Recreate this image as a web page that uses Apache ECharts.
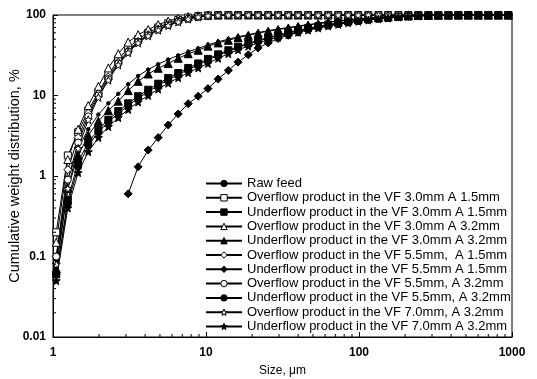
<!DOCTYPE html>
<html><head><meta charset="utf-8">
<script src="https://cdn.jsdelivr.net/npm/echarts@6/dist/echarts.min.js"></script>
<style>html,body{margin:0;padding:0;background:#fff}#c{width:537px;height:379px}</style>
</head><body><div id="c"></div>
<script>
// particle sizes, µm
const sizes = [1.05,1.25,1.46,1.70,1.98,2.30,2.67,3.10,3.60,4.19,4.87,5.66,6.58,7.65,8.89,10.3,12.0,14.0,16.2,18.9,21.9,25.5,29.6,34.5,40.0,46.5,54.1,62.9,73.1,85.0,98.8,115,134,155,181,210,244,284,330,384,446,518,602,700,814,946];

const rawFeed   = [0.09,0.9,2.2,3.8,5.8,8.0,10.5,13.8,17.5,21,24.5,28,31.5,35,38.5,42.5,46.5,50,53.5,57,60.5,64,67,70,73,76,79,82,84.5,87,89.5,92,94,95.5,97,98,98.8,99.3,99.7,99.9,100,100,100,100,100,100];
const over30A15 = [0.2,1.8,3.5,6.5,11,18,28,39,50,60,70,79,87,93,97,99,99.7,100,100,100,100,100,100,100,100,100,100,100,100,100,100,100,100,100,100,100,100,100,100,100,100,100,100,100,100,100];
const under30A15= [0.06,0.5,1.5,2.6,3.8,5.0,6.4,8.0,9.8,11.8,14,16.5,19,22,25,28.5,32.5,36.5,40.5,44.5,48.5,52.5,56.5,60.5,64.5,68.5,72.5,76,79.5,83,86,89,91.5,93.5,95.5,97,98,98.8,99.4,99.7,99.9,100,100,100,100,100];
const over30A32 = [0.15,1.6,3.8,7.5,13,22,33,46,57,66,76,84,91,95.5,98,99.3,99.8,100,100,100,100,100,100,100,100,100,100,100,100,100,100,100,100,100,100,100,100,100,100,100,100,100,100,100,100,100];
const under30A32= [0.07,0.7,1.8,3.2,4.8,6.5,8.5,11.5,15,18.5,21.8,25,29,33,36.5,41,45,48.5,52.5,56,59.5,63,66,69,72,75,78,81,84,86.5,89,91.5,93.5,95,96.5,97.7,98.5,99.2,99.6,99.9,100,100,100,100,100,100];
const over55A15 = [0.1,1.2,3.0,6.0,10.5,17,26,36,47,57,67,76,84,91,95.5,98.5,99.6,100,100,100,100,100,100,100,100,100,100,100,100,100,100,100,100,100,100,100,100,100,100,100,100,100,100,100,100,100];
const under55A15= [null,null,null,null,null,null,null,0.6,1.3,2.1,3.0,4.3,5.9,7.9,9.8,12.2,16,20.5,26,32,39,45,51,56,61,66,70.5,74.5,78,81.5,84.5,87.5,90,92.5,94.5,96,97.3,98.3,99,99.5,99.8,100,100,100,100,100];
const over55A32 = [0.1,0.9,2.6,5.5,10,16,25,35,46,56,66,75,83,90,95,98.3,99.5,100,100,100,100,100,100,100,100,100,100,100,100,100,100,100,100,100,100,100,100,100,100,100,100,100,100,100,100,100];
const under55A32= [0.06,0.45,1.3,2.4,3.5,4.7,6.0,7.5,9.2,11.2,13.3,15.7,18.2,21,24,27.5,31.5,35.5,39.5,43.5,47.5,51.5,55.5,59.5,63.5,67.5,71.5,75,78.5,82,85,88,90.5,93,95,96.7,97.8,98.7,99.3,99.7,99.9,100,100,100,100,100];
const over70A32 = [0.08,0.7,2.2,5.0,9.5,15.5,24,34,45,55,65,74,82,89,94.5,98,99.4,100,100,100,100,100,100,100,100,100,100,100,100,100,100,100,100,100,100,100,100,100,100,100,100,100,100,100,100,100];
const under70A32= [0.05,0.4,1.1,2.0,3.0,4.1,5.3,6.7,8.3,10,12,14.2,16.6,19.2,22,25,29,33,37,41,45,49,53,57,61,65,69,73,76.5,80,83.5,86.5,89.5,92,94.3,96,97.3,98.3,99,99.5,99.8,100,100,100,100,100];

const seriesNames = [
  'Raw feed',
  'Overflow product in the VF 3.0mm A 1.5mm',
  'Underflow product in the VF 3.0mm A 1.5mm',
  'Overflow product in the VF 3.0mm A 3.2mm',
  'Underflow product in the VF 3.0mm A 3.2mm',
  'Overflow product in the VF 5.5mm,  A 1.5mm',
  'Underflow product in the VF 5.5mm A 1.5mm',
  'Overflow product in the VF 5.5mm, A 3.2mm',
  'Underflow product in the VF 5.5mm, A 3.2mm',
  'Overflow product in the VF 7.0mm, A 3.2mm',
  'Underflow product in the VF 7.0mm A 3.2mm'
];
const seriesValues = [rawFeed,over30A15,under30A15,over30A32,under30A32,over55A15,under55A15,over55A32,under55A32,over70A32,under70A32];

const xTickLabels = ['1','10','100','1000'];
const yTickLabels = ['0.01','0.1','1','10','100'];
const xMinorTicks = [2,3,4,5,6,7,8,9,20,30,40,50,60,70,80,90,200,300,400,500,600,700,800,900];
const yMinorTicks = [0.02,0.03,0.04,0.05,0.06,0.07,0.08,0.09,0.2,0.3,0.4,0.5,0.6,0.7,0.8,0.9,2,3,4,5,6,7,8,9,20,30,40,50,60,70,80,90];

const STAR = 'path://M12,1 L14.9,8.9 L23,9.3 L16.6,14.3 L18.8,22.5 L12,17.8 L5.2,22.5 L7.4,14.3 L1,9.3 L9.1,8.9 Z';
const styles = [
  {symbol:'circle', size:3.5, fill:'#000'},
  {symbol:'rect', size:7, fill:'#fff'},
  {symbol:'rect', size:7, fill:'#000'},
  {symbol:'triangle', size:8, fill:'#fff'},
  {symbol:'triangle', size:8, fill:'#000'},
  {symbol:'diamond', size:8, fill:'#fff'},
  {symbol:'diamond', size:8, fill:'#000'},
  {symbol:'circle', size:7, fill:'#fff'},
  {symbol:'circle', size:7, fill:'#000'},
  {symbol:STAR, size:8, fill:'#fff'},
  {symbol:STAR, size:8, fill:'#000'}
];

const FONT = 'Liberation Sans, Arial, sans-serif';
const series = seriesNames.map((name, i) => ({
  name, type:'line',
  data: sizes.map((s, k) => [s, seriesValues[i][k]]),
  symbol: styles[i].symbol, symbolSize: styles[i].size,
  showAllSymbol: true,
  lineStyle: {color:'#000', width:1},
  itemStyle: {color: styles[i].fill, borderColor:'#000', borderWidth:1},
  emphasis: {disabled:true},
  z: 3
}));

// minor ticks (log style 2..9) drawn through the axes' scales
series.push({
  type:'custom', name:'xminor', silent:true, z:5,
  data: xMinorTicks.map(v => [v, 0.01]),
  renderItem: (params, api) => {
    const p = api.coord([api.value(0), api.value(1)]);
    return {type:'line', shape:{x1:p[0], y1:p[1], x2:p[0], y2:p[1]-3}, style:{stroke:'#000', lineWidth:1}};
  }
});
series.push({
  type:'custom', name:'yminor', silent:true, z:5,
  data: yMinorTicks.map(v => [1, v]),
  renderItem: (params, api) => {
    const p = api.coord([api.value(0), api.value(1)]);
    return {type:'line', shape:{x1:p[0], y1:p[1], x2:p[0]+3, y2:p[1]}, style:{stroke:'#000', lineWidth:1}};
  }
});

const chart = echarts.init(document.getElementById('c'), null, {renderer:'canvas'});
chart.setOption({
  animation:false,
  backgroundColor:'#fff',
  grid:{left:53, right:25, top:15, bottom:42, outerBoundsMode:'none', containLabel:false,
    show:true, borderColor:'#000', borderWidth:1, backgroundColor:'transparent'},
  xAxis:{
    type:'log', logBase:10, min:1, max:1000,
    name:'Size, μm', nameLocation:'middle', nameGap:28, nameMoveOverlap:false,
    nameTextStyle:{fontFamily:FONT, fontSize:12, color:'#000'},
    axisLine:{lineStyle:{color:'#000', width:1}},
    axisTick:{inside:true, length:5, lineStyle:{color:'#000'}},
    axisLabel:{fontFamily:FONT, fontSize:12, color:'#000', fontWeight:'bold', margin:10,
      formatter:(v)=>xTickLabels[Math.round(Math.log10(v))]},
    splitLine:{show:false}
  },
  yAxis:{
    type:'log', logBase:10, min:0.01, max:100,
    name:'Cumulative weight distribution, %', nameLocation:'middle', nameGap:31, nameMoveOverlap:false,
    nameTextStyle:{fontFamily:FONT, fontSize:14.5, color:'#000'},
    axisLine:{lineStyle:{color:'#000', width:1}},
    axisTick:{inside:true, length:5, lineStyle:{color:'#000'}},
    axisLabel:{fontFamily:FONT, fontSize:12, color:'#000', fontWeight:'bold', margin:7,
      formatter:(v)=>yTickLabels[Math.round(Math.log10(v))+2]},
    splitLine:{show:false}
  },
  legend:{
    data: seriesNames,
    orient:'vertical', left:200, top:172,
    itemWidth:36, itemHeight:8, itemGap:1.3,
    textStyle:{fontFamily:FONT, fontSize:13, color:'#000', lineHeight:13, padding:[0,0,0,0]},
    itemStyle:{borderColor:'#000', borderWidth:1},
    selectedMode:false
  },
  series
});
</script></body></html>
